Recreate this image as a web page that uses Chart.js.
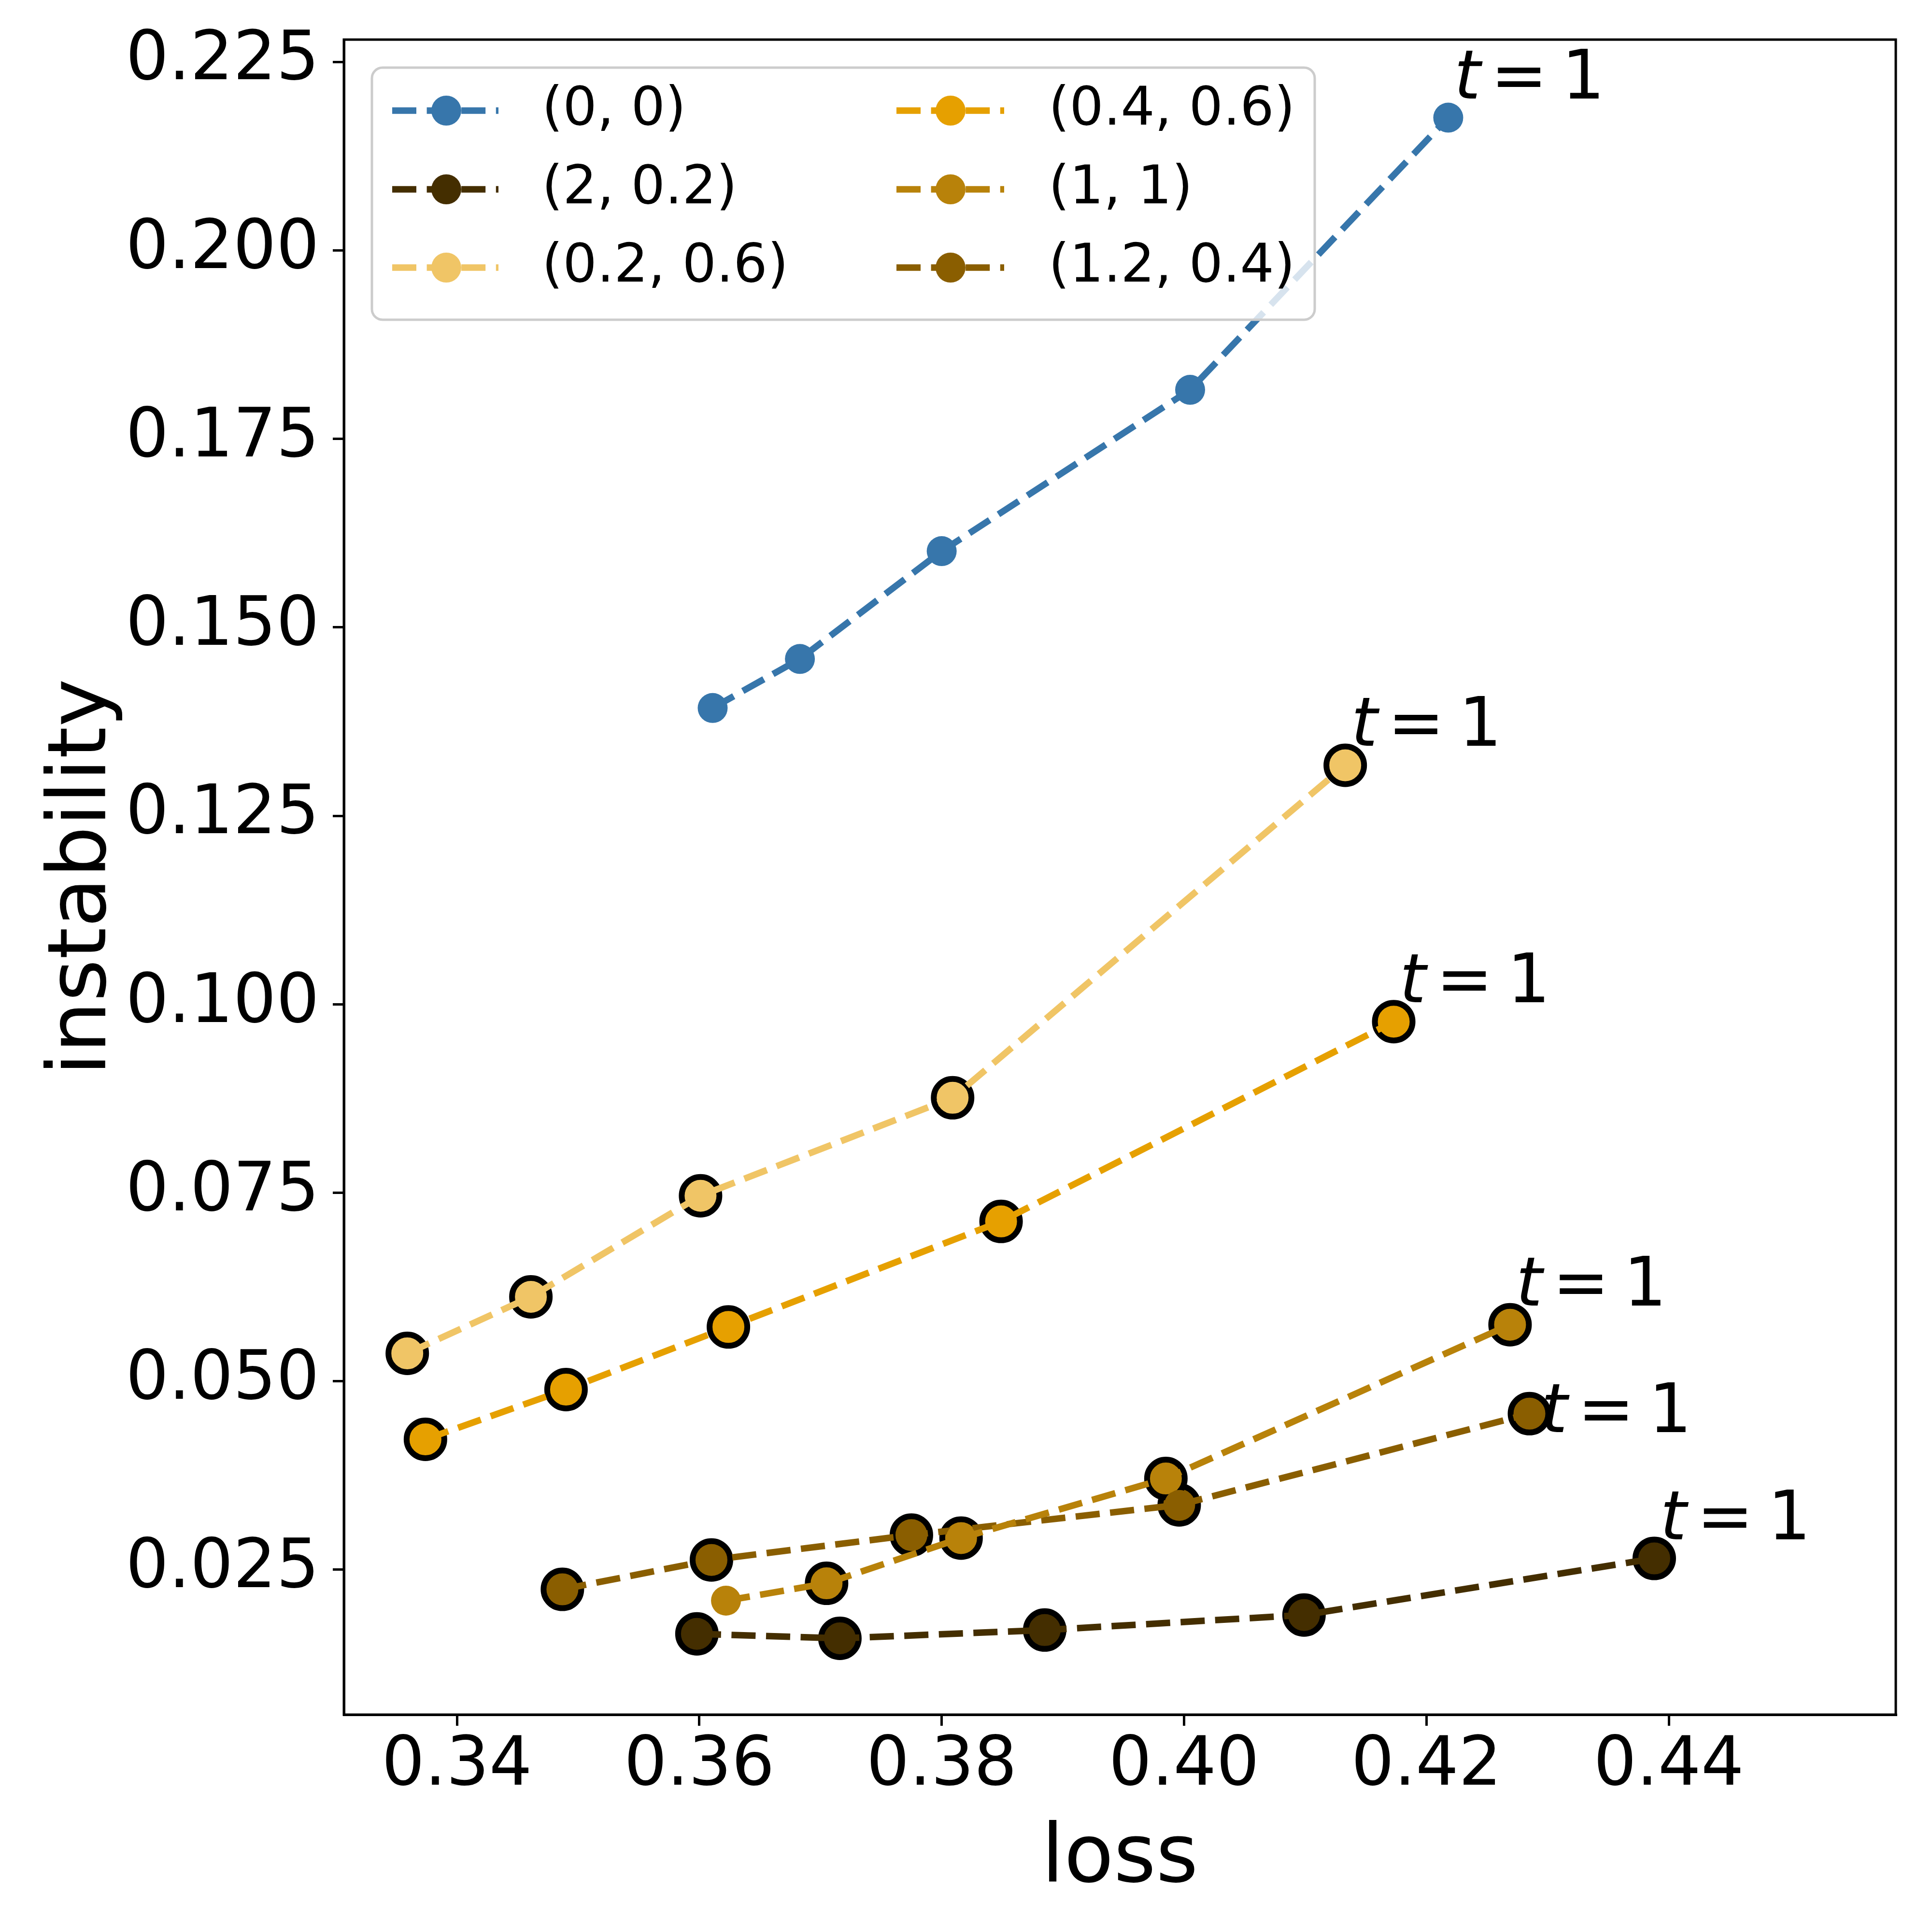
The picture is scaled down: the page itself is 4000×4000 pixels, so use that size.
<!DOCTYPE html>
<html>
<head>
<meta charset="utf-8">
<script src="https://cdn.jsdelivr.net/npm/chart.js@4/dist/chart.umd.min.js"></script>
<style>html,body{margin:0;padding:0;background:#fff;}canvas{display:block;}</style>
</head>
<body>
<canvas id="c" width="4000" height="4000"></canvas>
<script>
// ---- data ----
const seriesLabels = ['(0, 0)', '(2, 0.2)', '(0.2, 0.6)', '(0.4, 0.6)', '(1, 1)', '(1.2, 0.4)'];

const loss_0_0   = [0.3611, 0.3683, 0.3800, 0.4005, 0.4218];
const inst_0_0   = [0.1393, 0.1458, 0.1601, 0.1815, 0.2176];

const loss_2_02  = [0.3598, 0.3716, 0.3885, 0.4099, 0.4388];
const inst_2_02  = [0.0165, 0.0159, 0.0170, 0.0190, 0.0265];

const loss_02_06 = [0.3359, 0.3461, 0.3601, 0.3809, 0.4133];
const inst_02_06 = [0.0537, 0.0612, 0.0746, 0.0876, 0.1317];

const loss_04_06 = [0.3374, 0.3490, 0.3624, 0.3849, 0.4173];
const inst_04_06 = [0.0423, 0.0489, 0.0572, 0.0712, 0.0977];

const loss_1_1   = [0.3622, 0.3705, 0.3816, 0.3985, 0.4269];
const inst_1_1   = [0.0209, 0.0232, 0.0292, 0.0371, 0.0575];

const loss_12_04 = [0.3487, 0.3610, 0.3775, 0.3996, 0.4285];
const inst_12_04 = [0.0224, 0.0263, 0.0296, 0.0336, 0.0457];

// which points carry the black-edged highlight marker
const edged_0_0   = [false, false, false, false, false];
const edged_2_02  = [true, true, true, true, true];
const edged_02_06 = [true, true, true, true, true];
const edged_04_06 = [true, true, true, true, true];
const edged_1_1   = [false, true, true, true, true];
const edged_12_04 = [true, true, true, true, true];

const xTicks = [0.34, 0.36, 0.38, 0.40, 0.42, 0.44];
const yTicks = [0.025, 0.050, 0.075, 0.100, 0.125, 0.150, 0.175, 0.200, 0.225];
const annotationText = 't = 1';

// ---- styles ----
const colors = ['#3776ab', '#442e00', '#f0c566', '#e6a000', '#b8820a', '#8a5e00'];
// pixel offsets of each "t = 1" label from its series' last point
const annotOffsets = [[12, -40], [12, -40], [12, -40], [12, -40], [12, -40], [24, 38]];
const FONT = '"DejaVu Sans", "Liberation Sans", sans-serif';
const LW = 13.5;
const DASH = [50, 21.6];

const allLoss = [loss_0_0, loss_2_02, loss_02_06, loss_04_06, loss_1_1, loss_12_04];
const allInst = [inst_0_0, inst_2_02, inst_02_06, inst_04_06, inst_1_1, inst_12_04];
const allEdged = [edged_0_0, edged_2_02, edged_02_06, edged_04_06, edged_1_1, edged_12_04];

const datasets = [];
seriesLabels.forEach((lab, i) => {
  const pts = allLoss[i].map((v, k) => ({x: v, y: allInst[i][k]}));
  const edgePts = pts.filter((p, k) => allEdged[i][k]);
  // highlighted markers (drawn below)
  datasets.push({
    label: lab + ' edge', data: edgePts, showLine: false,
    pointRadius: 39, pointHoverRadius: 39, pointBorderWidth: 12, pointHoverBorderWidth: 12,
    pointBorderColor: '#000', pointBackgroundColor: colors[i],
    borderColor: '#000', backgroundColor: colors[i], order: 1
  });
  // dashed line with markers (drawn above)
  datasets.push({
    label: lab, data: pts, showLine: true, fill: false, tension: 0,
    borderColor: colors[i], backgroundColor: colors[i], borderWidth: LW,
    borderDash: DASH, borderCapStyle: 'butt',
    pointRadius: 31, pointHoverRadius: 31, pointBorderWidth: 0, pointHoverBorderWidth: 0,
    pointBackgroundColor: colors[i], order: 0
  });
});

const decor = {
  id: 'decor',
  afterDatasetsDraw(chart) {
    const {ctx, chartArea: a, scales: {x, y}} = chart;
    ctx.save();
    // annotations at the last point of every series
    ctx.fillStyle = '#000';
    ctx.textAlign = 'left';
    ctx.textBaseline = 'alphabetic';
    allLoss.forEach((arr, i) => {
      const n = arr.length - 1;
      const px = x.getPixelForValue(arr[n]);
      const py = y.getPixelForValue(allInst[i][n]);
      const bx = px + annotOffsets[i][0], by = py + annotOffsets[i][1];
      const parts = annotationText.split(' ');
      ctx.font = 'italic 140px ' + FONT;
      ctx.fillText(parts[0], bx, by);
      ctx.font = '140px ' + FONT;
      ctx.fillText(parts[1], bx + 76, by);
      ctx.fillText(parts[2], bx + 223, by);
    });

    // legend box
    ctx.beginPath();
    ctx.roundRect(770, 140, 1952, 522, 22);
    ctx.fillStyle = 'rgba(255,255,255,0.8)';
    ctx.fill();
    ctx.lineWidth = 5;
    ctx.strokeStyle = '#cccccc';
    ctx.stroke();

    const cols = [{l: 812, r: 1032, m: 924, t: 1122}, {l: 1856, r: 2079, m: 1968, t: 2171}];
    const rows = [229, 392, 554];
    seriesLabels.forEach((lab, i) => {
      const c = cols[Math.floor(i / 3)];
      const ry = rows[i % 3];
      ctx.save();
      ctx.strokeStyle = colors[i];
      ctx.lineWidth = LW;
      ctx.setLineDash(DASH);
      ctx.lineCap = 'butt';
      ctx.beginPath();
      ctx.moveTo(c.l, ry);
      ctx.lineTo(c.r, ry);
      ctx.stroke();
      ctx.restore();
      ctx.beginPath();
      ctx.arc(c.m, ry, 31, 0, Math.PI * 2);
      ctx.fillStyle = colors[i];
      ctx.fill();
      ctx.fillStyle = '#000';
      ctx.font = '111px ' + FONT;
      ctx.textBaseline = 'middle';
      ctx.fillText(lab, c.t, ry);
    });

    // frame
    ctx.strokeStyle = '#000';
    ctx.lineWidth = 5;
    ctx.setLineDash([]);
    ctx.strokeRect(a.left, a.top, a.right - a.left, a.bottom - a.top);
    ctx.restore();
  }
};

new Chart(document.getElementById('c'), {
  type: 'scatter',
  data: {datasets},
  options: {
    responsive: false,
    animation: false,
    devicePixelRatio: 1,
    layout: {padding: {top: 82, right: 75, left: 0, bottom: 0}},
    plugins: {legend: {display: false}, tooltip: {enabled: false}},
    scales: {
      x: {
        type: 'linear', min: 0.33067, max: 0.45873,
        afterBuildTicks: s => { s.ticks = xTicks.map(v => ({value: v})); },
        afterFit: s => { s.height = 450; s.paddingLeft = 0; s.paddingRight = 0; },
        ticks: {callback: v => Number(v).toFixed(2), font: {family: FONT, size: 140}, color: '#000', padding: 2, maxRotation: 0, autoSkip: false},
        grid: {display: true, drawOnChartArea: false, drawTicks: true, tickLength: 23, tickWidth: 5, lineWidth: 5, tickColor: '#000', color: '#000'},
        border: {display: true, color: '#000', width: 5},
        title: {display: true, text: 'loss', font: {family: FONT, size: 168}, color: '#000', padding: {top: 0, bottom: 47}}
      },
      y: {
        type: 'linear', min: 0.00578, max: 0.22795,
        afterBuildTicks: s => { s.ticks = yTicks.map(v => ({value: v})); },
        afterFit: s => { s.width = 712; s.paddingTop = 0; s.paddingBottom = 0; },
        ticks: {callback: v => Number(v).toFixed(3), font: {family: FONT, size: 140}, color: '#000', padding: 28, autoSkip: false},
        grid: {display: true, drawOnChartArea: false, drawTicks: true, tickLength: 23, tickWidth: 5, lineWidth: 5, tickColor: '#000', color: '#000'},
        border: {display: true, color: '#000', width: 5},
        title: {display: true, text: 'instability', font: {family: FONT, size: 168}, color: '#000', padding: {top: 74, bottom: 0}}
      }
    }
  },
  plugins: [decor]
});
</script>
</body>
</html>
